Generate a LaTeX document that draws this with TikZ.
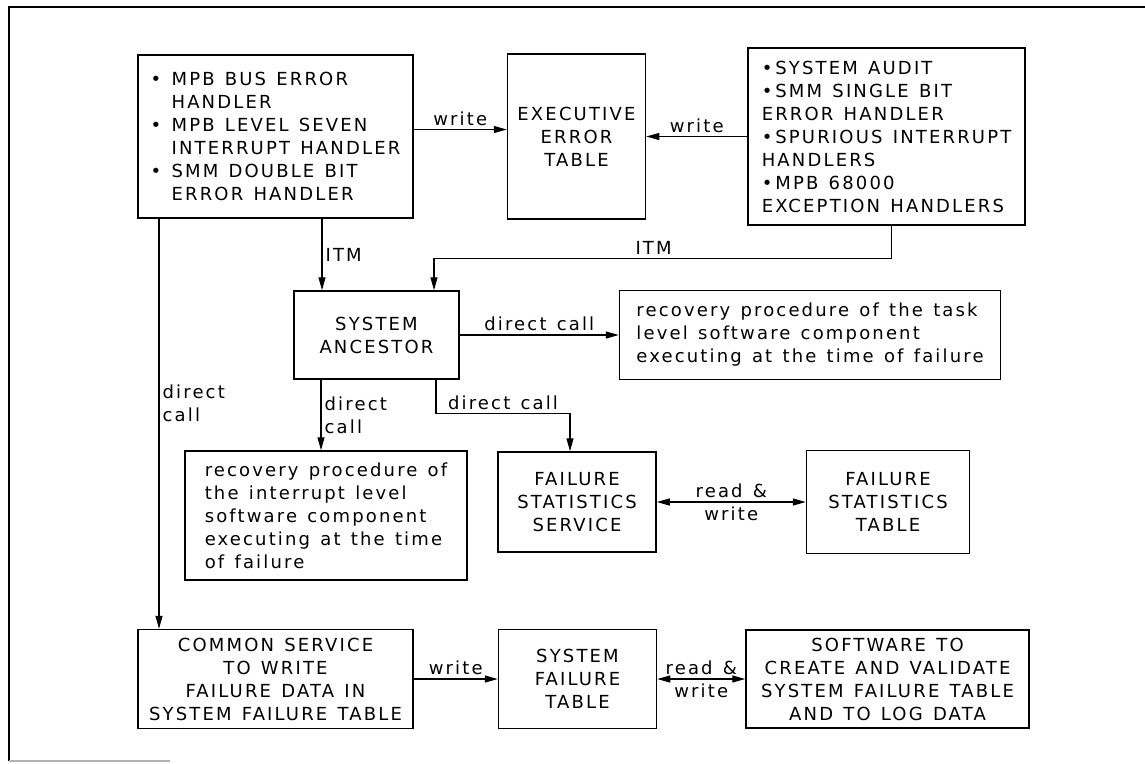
\documentclass[tikz,border=0pt]{standalone}
\usepackage{fontspec}
\setmainfont{DejaVu Sans}[LetterSpace=12,WordSpace=1.3]
\usetikzlibrary{positioning,arrows.meta}
\newcommand{\bul}{\textbullet\ }
\newcommand{\ind}{\hphantom{\textbullet\ }}

\begin{document}
\begin{tikzpicture}[x=1pt, y=-1pt,
  font=\fontsize{18}{23}\selectfont,
  box/.style={draw, line width=1.5pt, inner sep=3pt, align=center},
  arrow/.style={-{Triangle[length=13pt,width=7pt]}, line width=1.2pt},
  twoway/.style={{Triangle[length=13pt,width=7pt]}-{Triangle[length=13pt,width=7pt]}, line width=1.2pt},
  lbl/.style={inner sep=3pt, align=left}
]
\useasboundingbox (0,0) rectangle (1145,763);
% scanned frame
\draw[line width=1.3pt] (1145,7) -- (9,7) -- (9,761);
\draw[line width=1.3pt, gray!60] (9,761) -- (170,761);

% top row
\node[box, align=left, minimum width=275pt, minimum height=163pt] (handlers) at (275.5,136.5)
  {\bul MPB BUS ERROR\\\ind HANDLER\\\bul MPB LEVEL SEVEN\\\ind INTERRUPT HANDLER\\\bul SMM DOUBLE BIT\\\ind ERROR HANDLER};
\node[box, right=93pt of handlers, minimum width=138pt, minimum height=165pt] (eet) {EXECUTIVE\\ERROR\\TABLE};
\node[box, align=left, right=101pt of eet, minimum width=277pt, minimum height=177pt] (audit)
  {\textbullet\,SYSTEM AUDIT\\\textbullet\,SMM SINGLE BIT\\ERROR HANDLER\\\textbullet\,SPURIOUS INTERRUPT\\HANDLERS\\\textbullet\,MPB 68000\\EXCEPTION HANDLERS};

% middle
\node[box, minimum width=165pt, minimum height=88pt] (sa) at (376.5,335) {SYSTEM\\ANCESTOR};
\node[box, align=left, right=159pt of sa, minimum width=381pt, minimum height=89pt] (taskrec)
  {recovery procedure of the task\\level software component\\executing at the time of failure};
\node[box, align=left, minimum width=282pt, minimum height=129pt] (intrec) at (326,515.5)
  {recovery procedure of\\the interrupt level\\software component\\executing at the time\\of failure};
\node[box, minimum width=158pt, minimum height=100pt] (fss) at (577,502) {FAILURE\\STATISTICS\\SERVICE};
\node[box, right=149pt of fss, minimum width=163pt, minimum height=103pt] (fst) {FAILURE\\STATISTICS\\TABLE};

% bottom row
\node[box, minimum width=275pt, minimum height=99pt] (common) at (275.5,679)
  {COMMON SERVICE\\TO WRITE\\FAILURE DATA IN\\SYSTEM FAILURE TABLE};
\node[box, right=84pt of common, minimum width=158pt, minimum height=99pt] (sft) {SYSTEM\\FAILURE\\TABLE};
\node[box, right=88pt of sft, minimum width=283pt, minimum height=98pt] (software)
  {SOFTWARE TO\\CREATE AND VALIDATE\\SYSTEM FAILURE TABLE\\AND TO LOG DATA};

% connectors
\draw[arrow] ([yshift=7pt]handlers.east) -- ([yshift=7pt]handlers.east -| eet.west) node[midway, above] {write};
\draw[arrow] (audit.west) -- (audit.west -| eet.east) node[midway, above] {write};
\draw[arrow] ([xshift=-54.5pt]sa.north |- handlers.south) -- ([xshift=-54.5pt]sa.north) node[midway, right, lbl] {ITM};
\draw[arrow] ([xshift=5pt]audit.south) -- ++(0,33) -| node[pos=0.26, above] {ITM} ([xshift=57.5pt]sa.north);
\draw[arrow] (sa.east) -- (sa.east -| taskrec.west) node[midway, above] {direct call};
\draw[arrow] ([xshift=-55.5pt]sa.south) -- ([xshift=-55.5pt]sa.south |- intrec.north) node[midway, right, lbl] {direct\\call};
\draw[arrow] ([xshift=59.5pt]sa.south) -- ++(0,34) -| node[pos=0.25, above] {direct call} ([xshift=-7pt]fss.north);
\draw[twoway] (fss) -- (fst) node[midway, align=center] {read \&\\write};
\draw[arrow] ([xshift=-116.5pt]handlers.south) -- ([xshift=-116.5pt]common.north) node[pos=0.45, right, lbl] {direct\\call};
\draw[arrow] (common) -- (sft) node[midway, above] {write};
\draw[twoway] (sft) -- (software) node[midway, align=center] {read \&\\write};
\end{tikzpicture}
\end{document}
